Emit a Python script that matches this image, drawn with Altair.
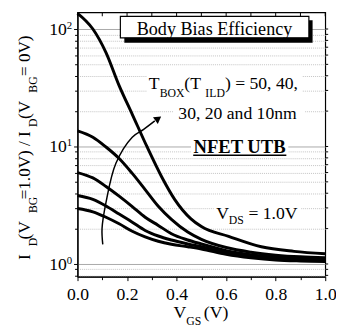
import altair as alt
import pandas as pd

FONT = "Liberation Serif, Times New Roman, Times, serif"

# ---------------- data ----------------
x_top = [0, 0.062, 0.115, 0.168, 0.221, 0.28, 0.34, 0.392, 0.458, 0.5, 0.61, 0.742, 0.874, 1.0]
r_50 = [136, 100, 63, 33, 18.8, 10, 5.5, 3.55, 2.42, 2.08, 1.72, 1.4, 1.28, 1.22]

x_low = [0, 0.062, 0.115, 0.168, 0.221, 0.273, 0.326, 0.379, 0.445, 0.5, 0.6, 0.7, 0.8, 0.9, 1.0]
r_40 = [13.6, 12, 9.9, 7.9, 5.9, 4.3, 3.1, 2.4, 1.87, 1.62, 1.38, 1.26, 1.19, 1.15, 1.13]
r_30 = [6.0, 5.4, 4.57, 3.78, 3.08, 2.5, 2.13, 1.81, 1.6, 1.48, 1.3, 1.2, 1.14, 1.11, 1.09]
r_20 = [3.83, 3.55, 3.12, 2.66, 2.27, 1.93, 1.73, 1.6, 1.48, 1.4, 1.25, 1.16, 1.11, 1.08, 1.07]
r_10 = [2.97, 2.78, 2.5, 2.2, 1.9, 1.7, 1.56, 1.47, 1.4, 1.34, 1.21, 1.13, 1.08, 1.06, 1.05]

# curved arrow (in data units) and its head
arrow_x = [0.102, 0.099, 0.115, 0.155, 0.221, 0.267, 0.312]
arrow_y = [1.47, 2.0, 3.35, 7.2, 12.0, 14.0, 16.5]
head_x, head_y = [0.326], [17.3]

x_ticks = [0, 0.1, 0.2, 0.3, 0.4, 0.5, 0.6, 0.7, 0.8, 0.9, 1.0]
y_ticks = [0.8, 0.9, 1, 2, 3, 4, 5, 6, 7, 8, 9, 10, 20, 30, 40, 50, 60, 70, 80, 90, 100]
y_label_vals = [1, 10, 100]
y_label_base = ["10", "10", "10"]
y_label_exp = ["0", "1", "2"]

# annotation texts (data coords, alphabetic baseline)
main_txt = ["T", " (T", ") = 50, 40,", "30, 20 and 10nm", "V", "= 1.0V"]
main_x = [0.288, 0.431, 0.595, 0.407, 0.560, 0.690]
main_y = [30.8, 30.8, 30.8, 17.0, 2.42, 2.42]
sub_txt = ["BOX", "ILD", "DS"]
sub_x = [0.332, 0.516, 0.611]
sub_y = [26.2, 26.2, 2.2]

# white backgrounds behind texts
bg_x = [0.280, 0.387, 0.458, 0.550]
bg_x2 = [0.906, 0.918, 0.851, 0.902]
bg_y = [43.0, 24.6, 11.9, 3.83]
bg_y2 = [24.6, 15.85, 8.25, 2.07]

# ---------------- tables ----------------
series = []
for name, xs, ys in [("50", x_top, r_50), ("40", x_low, r_40), ("30", x_low, r_30),
                     ("20", x_low, r_20), ("10", x_low, r_10)]:
    series.append(pd.DataFrame({"x": xs, "y": ys, "s": name}))
curves = pd.concat(series, ignore_index=True)
arrow = pd.DataFrame({"x": arrow_x, "y": arrow_y, "i": list(range(len(arrow_x)))})
head = pd.DataFrame({"x": head_x, "y": head_y})
main_df = pd.DataFrame({"x": main_x, "y": main_y, "t": main_txt})
sub_df = pd.DataFrame({"x": sub_x, "y": sub_y, "t": sub_txt})
bg_df = pd.DataFrame({"x": bg_x, "x2": bg_x2, "y": bg_y, "y2": bg_y2})
box_df = pd.DataFrame({"x": [0.173], "x2": [0.934], "y": [128.3], "y2": [84.1]})
shadow_df = pd.DataFrame({"x": [0.189], "x2": [0.949], "y": [118.9], "y2": [76.4]})
title_df = pd.DataFrame({"x": [0.553], "y": [89.6], "t": ["Body Bias Efficiency"]})
nfet_df = pd.DataFrame({"x": [0.654], "y": [8.74], "t": ["NFET UTB"]})
uline_df = pd.DataFrame({"x": [0.467], "x2": [0.843], "y": [8.41]})
xt_df = pd.DataFrame({"x": x_ticks})
yt_df = pd.DataFrame({"y": y_ticks})
ylab_df = pd.DataFrame({"y": y_label_vals, "b": y_label_base, "e": y_label_exp})
one = pd.DataFrame({"a": [0]})

# ---------------- shared encodings ----------------
x_even = "round(datum.value*10) % 2 == 0"
y_major = "datum.value == 1 || datum.value == 10 || datum.value == 100"

X = alt.X("x:Q",
          scale=alt.Scale(domain=[0, 1], nice=False, zero=False),
          axis=alt.Axis(values=x_ticks, title=None, grid=False,
                        labelExpr=f"{x_even} ? format(datum.value, '.1f') : ''",
                        tickSize={"condition": {"test": x_even, "value": 4}, "value": 3},
                        labelPadding=5, labelFlush=False, labelOverlap=False))
Y = alt.Y("y:Q",
          scale=alt.Scale(type="log", domain=[0.779, 138.6], nice=False),
          axis=alt.Axis(values=y_ticks, title=None, grid=True, labels=False,
                        gridColor={"condition": {"test": y_major, "value": "#a8a8a8"}, "value": "#c4c4c4"},
                        gridDash={"condition": {"test": y_major, "value": []}, "value": [1, 1]},
                        tickSize={"condition": {"test": y_major, "value": 4}, "value": 3}))

txt = dict(font=FONT, color="black", baseline="alphabetic")
layers = []
# white text backgrounds
layers.append(alt.Chart(bg_df).mark_rect(color="white").encode(x=X, x2="x2:Q", y=Y, y2="y2:Q"))
# title box with shadow
layers.append(alt.Chart(shadow_df).mark_rect(color="black").encode(x=X, x2="x2:Q", y=Y, y2="y2:Q"))
layers.append(alt.Chart(box_df).mark_rect(fill="white", stroke="black", strokeWidth=1.2)
              .encode(x=X, x2="x2:Q", y=Y, y2="y2:Q"))
# curves
layers.append(alt.Chart(curves).mark_line(color="black", strokeWidth=3, interpolate="monotone")
              .encode(x=X, y=Y, detail="s:N"))
# arrow
layers.append(alt.Chart(arrow).mark_line(color="black", strokeWidth=1.5, interpolate="catmull-rom")
              .encode(x=X, y=Y, order="i:Q"))
layers.append(alt.Chart(head).mark_point(shape="triangle-up", filled=True, color="black",
                                         size=70, angle=54, opacity=1).encode(x=X, y=Y))
# texts
layers.append(alt.Chart(title_df).mark_text(fontSize=18.5, align="center", **txt)
              .encode(x=X, y=Y, text="t:N"))
layers.append(alt.Chart(main_df).mark_text(fontSize=18, align="left", **txt)
              .encode(x=X, y=Y, text="t:N"))
layers.append(alt.Chart(sub_df).mark_text(fontSize=12, align="left", **txt)
              .encode(x=X, y=Y, text="t:N"))
layers.append(alt.Chart(nfet_df).mark_text(fontSize=19, fontWeight="bold", align="center", **txt)
              .encode(x=X, y=Y, text="t:N"))
layers.append(alt.Chart(uline_df).mark_rule(color="black", strokeWidth=1.5).encode(x=X, x2="x2:Q", y=Y))
# y tick labels 10^n
layers.append(alt.Chart(ylab_df).mark_text(fontSize=18, align="right", dy=6, **txt)
              .encode(y=Y, x=alt.value(-11), text="b:N"))
layers.append(alt.Chart(ylab_df).mark_text(fontSize=11, align="left", dy=0, **txt)
              .encode(y=Y, x=alt.value(-11), text="e:N"))
# mirrored ticks: top (inward) and right (outward)
layers.append(alt.Chart(xt_df).mark_rule(color="black", strokeWidth=1)
              .encode(x=X, y=alt.value(0), y2=alt.value(4)))
layers.append(alt.Chart(yt_df).mark_rule(color="black", strokeWidth=1)
              .encode(y=Y, x=alt.value(253), x2=alt.value(256)))

# axis titles with subscripts (pixel positions relative to plot origin)
xt_pieces = [("V", 98, 312.5, 18), ("GS", 111, 319, 12), ("(V)", 129, 312.5, 18)]
for s, px, py, fs in xt_pieces:
    layers.append(alt.Chart(one).mark_text(text=s, fontSize=fs, align="left", **txt)
                  .encode(x=alt.value(px), y=alt.value(py)))
yt_pieces = [("I", 253, 18, False), ("D", 239, 12, True), (" (V", 232, 18, False), ("BG", 205, 12, True),
             (" =1.0V) / I", 191, 17.5, False), ("D", 117, 12, True), (" (V", 109, 17.5, False),
             ("BG", 82, 12, True), (" = 0V)", 65, 17.5, False)]
for s, py, fs, sub in yt_pieces:
    layers.append(alt.Chart(one).mark_text(text=s, fontSize=fs, align="left", angle=270, **txt)
                  .encode(x=alt.value(-41 if sub else -49), y=alt.value(py)))

chart = alt.layer(*layers).properties(
    width=253, height=270,
    autosize=alt.AutoSizeParams(type="none"),
    padding={"left": 71, "top": 1, "right": 11, "bottom": 52},
).configure_view(stroke="black", strokeWidth=1.2
).configure_axis(labelFont=FONT, labelFontSize=18, labelColor="black",
                 domainColor="black", domainWidth=1.2, tickColor="black", tickWidth=1)

chart.save("out.html", embed_options={"renderer": "svg", "actions": False})
